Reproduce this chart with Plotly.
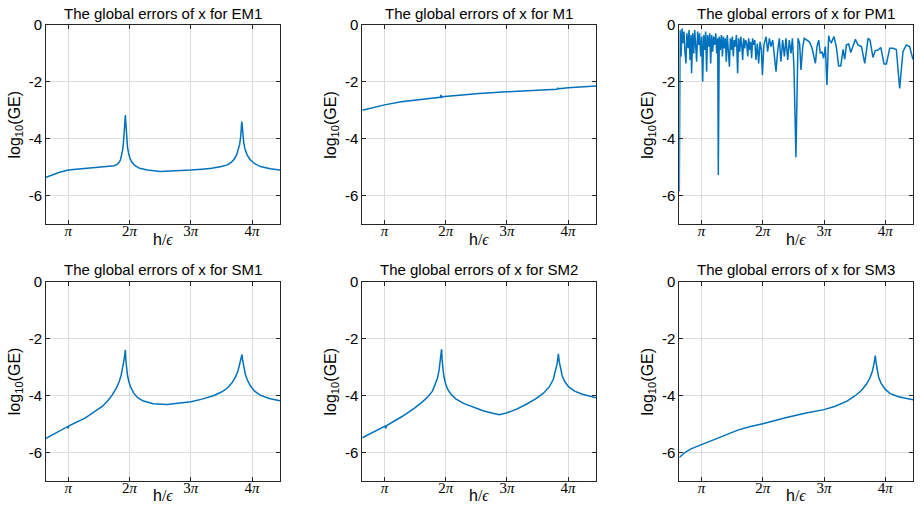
import math
import plotly.graph_objects as go

PI = math.pi

# h/eps values and log10 global errors for each method
em1_x = [2.0, 2.3, 2.7, 3.14, 3.6, 4.2, 4.7, 5.0, 5.3, 5.5, 5.65, 5.75, 5.82, 5.88, 5.93,
         5.97, 6.0, 6.03, 6.05, 6.07, 6.09, 6.11, 6.14, 6.18, 6.23, 6.3, 6.4, 6.55, 6.8,
         7.2, 7.85, 8.5, 9.42, 10.0, 10.5, 11.0, 11.3, 11.5, 11.65, 11.77, 11.86, 11.93,
         11.98, 12.01, 12.04, 12.07, 12.1, 12.14, 12.2, 12.3, 12.45, 12.7, 13.0, 13.5, 14.0]
em1_y = [-5.36, -5.28, -5.18, -5.1, -5.07, -5.04, -5.02, -5.0, -4.98, -4.95, -4.9, -4.83,
         -4.74, -4.6, -4.4, -4.15, -3.9, -3.55, -3.3, -3.17, -3.4, -3.75, -4.05, -4.3, -4.5,
         -4.68, -4.82, -4.94, -5.04, -5.1, -5.15, -5.14, -5.1, -5.07, -5.04, -4.98, -4.92,
         -4.83, -4.72, -4.58, -4.4, -4.2, -3.95, -3.7, -3.4, -3.6, -3.9, -4.15, -4.35,
         -4.55, -4.72, -4.88, -4.98, -5.06, -5.1]

m1_x = [2.0, 2.5, 3.14, 4.0, 5.0, 6.0, 6.04, 6.07, 6.1, 7.0, 8.0, 9.42, 11.0, 12.0, 12.05,
        12.1, 12.57, 13.3, 14.0]
m1_y = [-3.0, -2.91, -2.81, -2.7, -2.61, -2.54, -2.46, -2.57, -2.52, -2.46, -2.41, -2.35,
        -2.29, -2.26, -2.22, -2.24, -2.21, -2.18, -2.15]

pm1_x = [2.0, 2.04, 2.09, 2.14, 2.19, 2.24, 2.29, 2.34, 2.39, 2.45, 2.50, 2.55, 2.60, 2.63,
         2.69, 2.74, 2.79, 2.84, 2.89, 2.94, 2.99, 3.04, 3.10, 3.15, 3.20, 3.25, 3.30, 3.35,
         3.40, 3.45, 3.51, 3.56, 3.61, 3.66, 3.71, 3.76, 3.81, 3.87, 3.92, 3.97, 4.00, 4.05,
         4.10, 4.16, 4.21, 4.26, 4.31, 4.36, 4.41, 4.46, 4.51, 4.57, 4.62, 4.67, 4.72, 4.77,
         4.82, 4.87, 4.93, 4.99, 5.04, 5.10, 5.15, 5.20, 5.25, 5.30, 5.35, 5.40, 5.455, 5.51,
         5.56, 5.61, 5.66, 5.71, 5.76, 5.81, 5.87, 5.93, 6.00, 6.07, 6.14, 6.21, 6.26, 6.34,
         6.45, 6.53, 6.62, 6.70, 6.79, 6.87, 6.96, 7.04, 7.13, 7.21, 7.30, 7.39, 7.47, 7.56,
         7.64, 7.73, 7.80, 7.88, 7.98, 8.09, 8.17, 8.24, 8.33, 8.41, 8.55, 8.67, 8.81, 8.91,
         8.98, 9.06, 9.15, 9.23, 9.32, 9.40, 9.49, 9.57, 9.66, 9.72, 9.80, 9.93, 10.05, 10.17,
         10.28, 10.40, 10.48, 10.57, 10.69, 10.79, 10.91, 11.03, 11.16, 11.34, 11.51, 11.68,
         11.78, 11.93, 12.05, 12.19, 12.33, 12.50, 12.62, 12.79, 12.96, 13.13, 13.30, 13.47,
         13.64, 13.81, 13.98]
pm1_y = [-5.86, -0.18, -1.11, -0.12, -0.64, -0.23, -0.94, -1.35, -0.29, -0.82, -0.18, -1.23,
         -0.35, -1.70, -0.29, -1.0, -0.18, -0.76, -1.29, -0.23, -0.70, -0.29, -1.11, -0.41,
         -1.99, -0.35, -0.88, -0.23, -1.64, -0.35, -0.76, -0.29, -1.35, -0.35, -0.94, -0.41,
         -0.70, -0.29, -1.0, -0.47, -5.28, -0.41, -0.88, -0.35, -1.11, -0.41, -0.82, -0.47,
         -1.29, -0.35, -1.0, -1.47, -0.47, -0.88, -0.41, -1.11, -0.53, -0.76, -0.35, -1.70,
         -0.47, -0.94, -0.41, -0.70, -1.23, -0.47, -0.82, -0.53, -0.64, -1.11, -0.47, -0.88,
         -0.59, -1.17, -0.47, -0.70, -0.53, -1.23, -0.65, -1.35, -0.59, -0.88, -1.76, -0.70,
         -0.41, -0.94, -0.47, -0.76, -0.53, -1.0, -1.64, -0.94, -0.47, -1.29, -0.53, -1.11,
         -0.47, -1.23, -0.53, -1.0, -0.47, -1.47, -4.65, -0.47, -0.65, -1.58, -0.76, -0.47,
         -0.53, -0.59, -0.82, -1.11, -1.35, -0.76, -0.53, -1.0, -0.94, -1.17, -0.76, -2.11,
         -0.38, -0.55, -0.62, -0.41, -0.76, -1.44, -1.44, -0.86, -1.21, -0.70, -0.67, -0.97,
         -0.74, -0.50, -0.70, -0.76, -1.35, -0.47, -0.53, -1.14, -0.90, -0.88, -0.79, -1.37,
         -1.37, -0.82, -0.82, -0.86, -2.23, -0.94, -0.70, -0.76, -1.21]

sm1_x = [2.0, 2.6, 3.1, 3.14, 3.18, 4.0, 4.51, 4.9, 5.2, 5.4, 5.6, 5.75, 5.85, 5.93, 5.99,
         6.03, 6.07, 6.1, 6.13, 6.18, 6.25, 6.35, 6.5, 6.7, 7.0, 7.5, 8.2, 8.8, 9.44, 10.0,
         10.58, 11.0, 11.3, 11.55, 11.72, 11.85, 11.95, 12.0, 12.05, 12.09, 12.14, 12.22,
         12.32, 12.48, 12.7, 13.0, 13.5, 14.0]
sm1_y = [-5.51, -5.28, -5.1, -5.16, -5.07, -4.8, -4.57, -4.38, -4.16, -3.98, -3.75, -3.52,
         -3.3, -3.05, -2.8, -2.6, -2.40, -2.8, -3.05, -3.3, -3.52, -3.72, -3.92, -4.08, -4.2,
         -4.29, -4.32, -4.28, -4.22, -4.13, -4.01, -3.88, -3.74, -3.55, -3.35, -3.12, -2.88,
         -2.72, -2.56, -2.78, -3.0, -3.25, -3.45, -3.66, -3.85, -4.0, -4.12, -4.19]

sm2_x = [2.0, 2.6, 3.17, 3.21, 3.25, 4.0, 4.7, 5.1, 5.38, 5.6, 5.75, 5.86, 5.94, 6.0, 6.04,
         6.07, 6.1, 6.13, 6.18, 6.26, 6.38, 6.55, 6.8, 7.2, 7.7, 8.2, 8.7, 9.03, 9.4, 9.9,
         10.4, 10.9, 11.3, 11.6, 11.8, 11.93, 12.0, 12.04, 12.07, 12.11, 12.17, 12.26, 12.4,
         12.6, 12.9, 13.3, 13.7, 14.0]
sm2_y = [-5.49, -5.28, -5.08, -5.16, -5.06, -4.76, -4.44, -4.22, -4.04, -3.85, -3.62, -3.4,
         -3.12, -2.85, -2.6, -2.38, -2.75, -3.0, -3.3, -3.55, -3.78, -3.96, -4.12, -4.28,
         -4.42, -4.54, -4.63, -4.68, -4.62, -4.49, -4.32, -4.12, -3.92, -3.7, -3.45, -3.15,
         -2.9, -2.7, -2.54, -2.8, -3.05, -3.3, -3.52, -3.7, -3.85, -3.96, -4.03, -4.08]

sm3_x = [2.0, 2.3, 2.6, 3.0, 3.14, 3.6, 4.2, 5.0, 5.6, 6.28, 7.5, 8.5, 9.42, 10.0, 10.6,
         11.0, 11.35, 11.6, 11.78, 11.9, 11.98, 12.03, 12.05, 12.09, 12.14, 12.22, 12.35,
         12.55, 12.8, 13.2, 13.6, 14.0]
sm3_y = [-6.18, -6.0, -5.88, -5.77, -5.74, -5.6, -5.42, -5.22, -5.1, -5.0, -4.78, -4.62,
         -4.5, -4.38, -4.2, -4.02, -3.82, -3.6, -3.38, -3.15, -2.9, -2.7, -2.6, -2.85, -3.1,
         -3.35, -3.58, -3.78, -3.93, -4.04, -4.1, -4.15]

methods = ["EM1", "M1", "PM1", "SM1", "SM2", "SM3"]
series = [(em1_x, em1_y), (m1_x, m1_y), (pm1_x, pm1_y),
          (sm1_x, sm1_y), (sm2_x, sm2_y), (sm3_x, sm3_y)]

x_tickvals = [PI, 2 * PI, 3 * PI, 4 * PI]
x_ticktext = ["<i>π</i>", "2<i>π</i>", "3<i>π</i>", "4<i>π</i>"]
y_tickvals = [0, -2, -4, -6]
y_ticktext = ["0", "-2", "-4", "-6"]

W, H = 921, 506
col_domains = [(46 / W, 280 / W), (362.3 / W, 596 / W), (679.3 / W, 913.3 / W)]
row_domains = [(1 - 224 / H, 1 - 25 / H), (1 - 480.7 / H, 1 - 281.7 / H)]

LINE = "#0072BD"
AXIS = "#262626"
GRID = "#dcdcdc"
SANS = "Liberation Sans, Arial, sans-serif"
SERIF = "Liberation Serif, Times New Roman, serif"

fig = go.Figure()
annotations = []
layout_axes = {}

for i, (name, (xs, ys)) in enumerate(zip(methods, series)):
    r, c = divmod(i, 3)
    sfx = "" if i == 0 else str(i + 1)
    fig.add_trace(go.Scatter(x=xs, y=ys, mode="lines",
                             line=dict(color=LINE, width=1.5),
                             xaxis="x" + sfx, yaxis="y" + sfx,
                             showlegend=False, hoverinfo="skip"))
    common = dict(showline=True, linecolor=AXIS, linewidth=1, mirror="ticks",
                  ticks="inside", ticklen=4, tickcolor=AXIS, tickwidth=1,
                  showgrid=True, gridcolor=GRID, gridwidth=1, zeroline=False,
                  automargin=False)
    layout_axes["xaxis" + sfx] = dict(
        domain=col_domains[c], anchor="y" + sfx, range=[2, 14],
        tickmode="array", tickvals=x_tickvals, ticktext=x_ticktext,
        ticklabelstandoff=-7,
        tickfont=dict(family=SERIF, size=15, color="#000"), **common)
    layout_axes["yaxis" + sfx] = dict(
        domain=row_domains[r], anchor="x" + sfx, range=[-7, 0],
        tickmode="array", tickvals=y_tickvals, ticktext=y_ticktext,
        tickfont=dict(family=SANS, size=15, color="#000"), **common)

    x0, x1 = col_domains[c]
    y0, y1 = row_domains[r]
    xc = (x0 + x1) / 2
    annotations.append(dict(
        text="The global errors of x for " + name, x=xc, y=y1, xref="paper", yref="paper",
        xanchor="center", yanchor="middle", yshift=12, showarrow=False,
        font=dict(family=SANS, size=15, color="#000")))
    annotations.append(dict(
        text="log<sub>10</sub>(GE)", x=x0, y=(y0 + y1) / 2, xref="paper", yref="paper",
        xanchor="center", yanchor="middle", xshift=-31, textangle=-90, showarrow=False,
        font=dict(family=SANS, size=16, color="#000")))
    annotations.append(dict(
        text="h<span style=\"font-family:Liberation Serif\">/<i>ϵ</i></span>",
        x=xc, y=y0, xref="paper", yref="paper",
        xanchor="center", yanchor="middle", yshift=-15, showarrow=False,
        font=dict(family=SANS, size=16, color="#000")))

fig.update_layout(
    width=W, height=H, margin=dict(l=0, r=0, t=0, b=0),
    paper_bgcolor="white", plot_bgcolor="white",
    annotations=annotations, **layout_axes)

fig.write_html("out.html")
